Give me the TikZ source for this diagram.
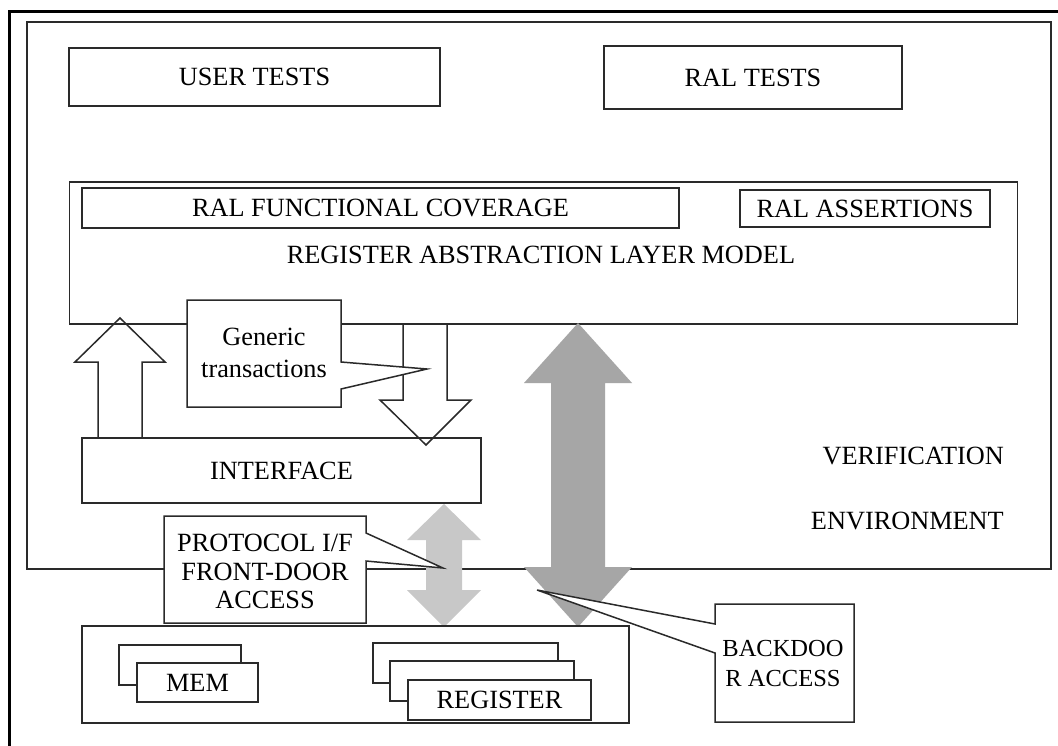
\documentclass[tikz,border=0pt]{standalone}
\usepackage{fontspec}
\setmainfont{Liberation Serif}
\definecolor{lightarrow}{HTML}{C8C8C8}
\definecolor{darkarrow}{HTML}{A6A6A6}
\definecolor{linecol}{HTML}{2A2A2A}
\begin{document}
\begin{tikzpicture}[x=1pt,y=-1pt,line join=miter,
  box/.style={draw=linecol,line width=1.5pt,rectangle,inner sep=0pt,font=\fontsize{26.3}{31}\selectfont},
  wbox/.style={box,fill=white},
  lbl/.style={inner sep=0pt,font=\fontsize{26.3}{31}\selectfont},
  smalllbl/.style={inner sep=0pt,font=\fontsize{24.5}{29}\selectfont},
  callout/.style={draw=linecol,line width=1.5pt,fill=white},
  hollow/.style={draw=linecol,line width=1.5pt,fill=white}]
\useasboundingbox (0,0) rectangle (1058,745);
\fill[white] (0,0) rectangle (1058,745);
\begin{scope}
  \clip (0,0) rectangle (1058,745);
  \draw[line width=3pt] (9,11) rectangle (1080,770);
\end{scope}

% verification environment
\node[box,minimum width=1024pt,minimum height=547pt] (env) at (539,295.5) {};
\node[lbl,anchor=east] (ver) at (1004,456) {VERIFICATION};
\node[lbl,anchor=east] (envt) at (1004,521) {ENVIRONMENT};

% tests
\node[box,minimum width=371pt,minimum height=58pt] (user) at (254.5,77) {USER TESTS};
\node[box,minimum width=298pt,minimum height=63pt] (ralt) at (753,77.5) {RAL TESTS};

% hollow arrows between model and interface
\draw[hollow] (98,438) -- (98,362) -- (75,362) -- (120,318) -- (165,362) -- (142,362) -- (142,438);
\draw[hollow] (403,324) -- (403,400) -- (380,400) -- (426,445) -- (471,400) -- (447,400) -- (447,324);

% model
\node[box,minimum width=948pt,minimum height=142pt] (model) at (543.5,253) {};
\node[box,minimum width=597pt,minimum height=40pt] (fcov) at (380.5,208) {RAL FUNCTIONAL COVERAGE};
\node[box,minimum width=250pt,minimum height=37pt] (asrt) at (865,208.5) {RAL ASSERTIONS};
\node[lbl] (modelt) at (541,255) {REGISTER ABSTRACTION LAYER MODEL};

% interface
\node[box,minimum width=399pt,minimum height=65pt] (iface) at (281.5,470.5) {INTERFACE};

% generic transactions callout
\draw[callout] (187,300) -- (341,300) -- (341,362) -- (427,369) -- (341,389) -- (341,407) -- (187,407) -- cycle;
\node[lbl,anchor=base] (gen1) at (264,345) {Generic};
\node[lbl,anchor=base] (gen2) at (264,377) {transactions};

% gray double arrows
\fill[lightarrow] (444,504) -- (481,540) -- (462,540) -- (462,590) -- (481,590) -- (444,627)
  -- (407,590) -- (426,590) -- (426,540) -- (407,540) -- cycle;
\fill[darkarrow] (578,323) -- (632,383) -- (605,383) -- (605,567) -- (632,567) -- (578,627)
  -- (524,567) -- (551,567) -- (551,383) -- (524,383) -- cycle;

% protocol callout
\draw[callout] (164,516) -- (366,516) -- (366,533) -- (443,568) -- (366,561) -- (366,623) -- (164,623) -- cycle;
\node[lbl,anchor=base] (p1) at (265,551) {PROTOCOL I/F};
\node[lbl,anchor=base] (p2) at (265,580) {FRONT-DOOR};
\node[lbl,anchor=base] (p3) at (265,608) {ACCESS};

% DUT
\node[box,minimum width=547pt,minimum height=97pt] (dut) at (355.5,674.5) {};
\node[wbox,minimum width=122pt,minimum height=40pt] (memb) at (180,665) {};
\node[wbox,minimum width=121pt,minimum height=39pt] (mem) at (197.5,682.5) {MEM};
\node[wbox,minimum width=185pt,minimum height=40pt] (reg1) at (465.5,663) {};
\node[wbox,minimum width=184pt,minimum height=40pt] (reg2) at (482,681) {};
\node[wbox,minimum width=183pt,minimum height=40pt] (reg3) at (499.5,700) {REGISTER};

% backdoor callout
\draw[callout] (715,604) -- (854,604) -- (854,722) -- (715,722) -- (715,653) -- (537,590) -- (715,624) -- cycle;
\node[smalllbl,anchor=base] (b1) at (783,656) {BACKDOO};
\node[smalllbl,anchor=base] (b2) at (783,686) {R ACCESS};
\end{tikzpicture}
\end{document}
